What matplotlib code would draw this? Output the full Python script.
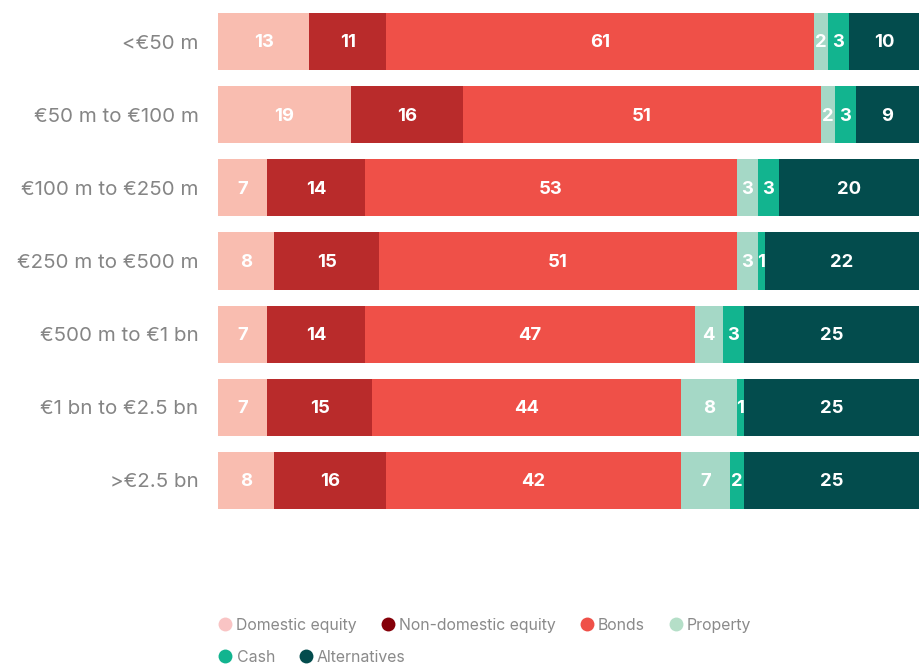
import numpy as np
import matplotlib.pyplot as plt
from matplotlib.lines import Line2D

plt.rcParams['font.family'] = ['Inter', 'DejaVu Sans']

bands = ['<€50 m', '€50 m to €100 m', '€100 m to €250 m', '€250 m to €500 m',
         '€500 m to €1 bn', '€1 bn to €2.5 bn', '>€2.5 bn']
assets = ['Domestic equity', 'Non-domestic equity', 'Bonds', 'Property',
          'Cash', 'Alternatives']

domestic = [13, 19, 7, 8, 7, 7, 8]
non_domestic = [11, 16, 14, 15, 14, 15, 16]
bonds = [61, 51, 53, 51, 47, 44, 42]
prop = [2, 2, 3, 3, 4, 8, 7]
cash = [3, 3, 3, 1, 3, 1, 2]
alternatives = [10, 9, 20, 22, 25, 25, 25]

bar_colors = ['#f9bdb0', '#b92b2b', '#ef5048', '#a5d8c6', '#12b48f', '#034c4d']
dot_colors = ['#f9c4c4', '#850009', '#ef5048', '#b5dfc8', '#12b48f', '#034c4d']

series = [domestic, non_domestic, bonds, prop, cash, alternatives]

fig = plt.figure(figsize=(9.19, 6.64), dpi=100)
ax = fig.add_axes([218 / 919, 1 - 509 / 664, 1 - 218 / 919, 496 / 664])

y = np.arange(len(bands))
left = np.zeros(len(bands))
for vals, col in zip(series, bar_colors):
    vals = np.array(vals, dtype=float)
    ax.barh(y, vals, left=left, height=0.78, color=col, linewidth=0)
    for yi, l, v in zip(y, left, vals):
        ax.text(l + v / 2, yi + 0.02, f'{int(v)}', ha='center', va='center',
                color='white', fontsize=13.3, fontweight='bold')
    left += vals

ax.set_xlim(0, 100)
ax.set_ylim(len(bands) - 1 + 0.39, -0.39)
ax.set_yticks(y)
ax.set_yticklabels(bands, fontsize=14.8, color='#858585')
ax.tick_params(axis='y', length=0, pad=14)
ax.set_xticks([])
for s in ax.spines.values():
    s.set_visible(False)

handles = [Line2D([], [], marker='o', linestyle='', markersize=10,
                  markerfacecolor=c, markeredgewidth=0, label=a)
           for a, c in zip(assets, dot_colors)]
legend_kw = dict(loc='upper left', frameon=False, fontsize=11.4,
                 labelcolor='#8a8a8a', handletextpad=0.1, columnspacing=1.35,
                 borderpad=0, handlelength=1.2)
fig.legend(handles=handles[:4], ncol=4,
           bbox_to_anchor=(208 / 919, 1 - 610 / 664), **legend_kw)
fig.legend(handles=handles[4:], ncol=2,
           bbox_to_anchor=(208 / 919, 1 - 642 / 664), **legend_kw)

fig.savefig('out.png', dpi=100)
